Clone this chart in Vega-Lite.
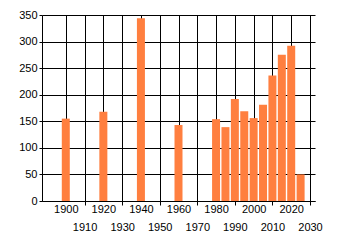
{
  "$schema": "https://vega.github.io/schema/vega-lite/v6.json",
  "autosize": "none",
  "width": 273,
  "height": 186,
  "padding": {"left": 42, "top": 15, "right": 25, "bottom": 44},
  "background": "white",
  "config": {
    "view": {"stroke": null},
    "axis": {"labelFont": "Liberation Sans", "labelFontSize": 11, "labelColor": "#000000", "domainColor": "#000000", "gridColor": "#000000", "gridOpacity": 1, "tickColor": "#000000", "title": null}
  },
  "data": {
    "values": [
      {"year": 1900, "value": 155},
      {"year": 1920, "value": 168},
      {"year": 1940, "value": 344},
      {"year": 1960, "value": 143},
      {"year": 1980, "value": 154},
      {"year": 1985, "value": 139},
      {"year": 1990, "value": 192},
      {"year": 1995, "value": 169},
      {"year": 2000, "value": 156},
      {"year": 2005, "value": 181},
      {"year": 2010, "value": 236},
      {"year": 2015, "value": 275},
      {"year": 2020, "value": 292},
      {"year": 2025, "value": 50}
    ]
  },
  "mark": {"type": "bar", "color": "#FF7F3F", "size": 8},
  "encoding": {
    "x": {
      "field": "year", "type": "quantitative",
      "scale": {"domain": [1890, 2030], "nice": false, "zero": false},
      "axis": {
        "values": [1900, 1910, 1920, 1930, 1940, 1950, 1960, 1970, 1980, 1990, 2000, 2010, 2020, 2030],
        "format": "d",
        "grid": true,
        "labelFlush": false,
        "labelOverlap": false,
        "labelPadding": {"expr": "datum.value % 20 == 0 ? 2 : 16"},
        "tickSize": {"expr": "datum.value % 20 == 0 ? 0 : 4"}
      }
    },
    "y": {
      "field": "value", "type": "quantitative",
      "scale": {"domain": [0, 350], "nice": false},
      "axis": {
        "values": [0, 50, 100, 150, 200, 250, 300, 350],
        "grid": true,
        "tickSize": 3,
        "labelPadding": 2
      }
    }
  }
}
